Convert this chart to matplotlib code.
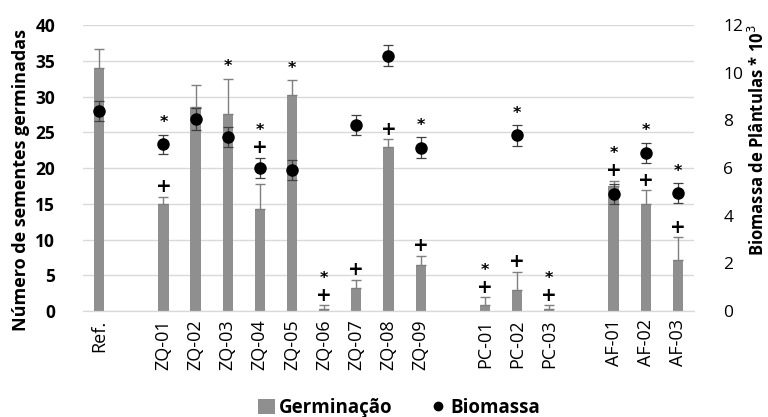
import matplotlib
matplotlib.use("Agg")
import matplotlib.pyplot as plt
import numpy as np
from matplotlib.lines import Line2D
from matplotlib.patches import Patch

plt.rcParams['font.family'] = ['Open Sans', 'DejaVu Sans']

categories = ['Ref.', '', 'ZQ-01', 'ZQ-02', 'ZQ-03', 'ZQ-04', 'ZQ-05', 'ZQ-06', 'ZQ-07',
              'ZQ-08', 'ZQ-09', '', 'PC-01', 'PC-02', 'PC-03', '', 'AF-01', 'AF-02', 'AF-03']
germinacao = [34.0, np.nan, 15.0, 28.5, 27.5, 14.2, 30.2, 0.3, 3.2,
              22.9, 6.5, np.nan, 0.8, 2.9, 0.3, np.nan, 17.5, 14.9, 7.2]
germ_err = [2.6, np.nan, 1.0, 3.1, 5.0, 3.5, 2.1, 0.5, 1.2,
            1.1, 1.2, np.nan, 1.1, 2.6, 0.5, np.nan, 0.7, 2.0, 3.1]
biomassa = [8.4, np.nan, 7.0, 8.06, 7.31, 6.01, 5.92, np.nan, 7.8,
            10.71, 6.85, np.nan, np.nan, 7.37, np.nan, np.nan, 4.9, 6.63, 4.95]
bio_err = [0.43, np.nan, 0.4, 0.47, 0.42, 0.42, 0.42, np.nan, 0.42,
           0.44, 0.43, np.nan, np.nan, 0.43, np.nan, np.nan, 0.42, 0.43, 0.42]
# significance marks stacked (bottom-to-top) above the bar error / biomass error
marks_bar = ['', '', '+', '', '*', '', '*', '+*', '+',
             '+', '+', '', '+*', '+', '+*', '', '+*', '+', '+']
marks_bio = ['', '', '*', '', '', '+*', '', '', '',
             '', '*', '', '', '*', '', '', '', '*', '*']

fig = plt.figure(figsize=(7.68, 4.17), dpi=100)
ax = fig.add_axes([83/768, 1-311/417, (694-83)/768, (311-25)/417])
ax2 = ax.twinx()

x = np.arange(len(categories))
bar_color = '#8f8f8f'
ax.bar(x, germinacao, width=0.32, color=bar_color, zorder=2)
ax.errorbar(x, germinacao, yerr=[np.zeros(len(x)), germ_err], fmt='none',
            ecolor='#7f7f7f', elinewidth=1.0, capsize=3.5, capthick=1.0, zorder=3)
ax2.errorbar(x, biomassa, yerr=bio_err, fmt='o', color='black', ms=8,
             ecolor='#404040', elinewidth=0.9, capsize=3.5, capthick=0.9, zorder=4)

ax.set_ylim(0, 40)
ax2.set_ylim(0, 12)
ax.set_xlim(-0.5, len(categories) - 0.5)
ax.set_yticks(np.arange(0, 41, 5))
ax2.set_yticks(np.arange(0, 13, 2))
ax.yaxis.grid(True, color='#d9d9d9', linewidth=1.0, zorder=0)
ax.set_axisbelow(True)
for a in (ax, ax2):
    for s in ['top', 'left', 'right']:
        a.spines[s].set_visible(False)
    a.spines['bottom'].set_color('#d9d9d9')
    a.tick_params(length=0)
ax.set_xticks(x)
ax.set_xticklabels(categories, rotation=90, fontsize=13)
ax.tick_params(axis='x', pad=6)
ax.tick_params(axis='y', labelsize=12.5, pad=20)
for t in ax.get_yticklabels():
    t.set_fontweight('bold')
ax2.tick_params(axis='y', labelsize=12.5, pad=21)

ax.set_ylabel('Número de sementes germinadas', fontsize=13, fontweight='bold')
ax.yaxis.set_label_coords(-(83-30)/611, (311-180)/286)
ax2.set_ylabel('Biomassa de Plântulas * 10$^{3}$', fontsize=12, fontweight='bold')
ax2.yaxis.set_label_coords((748-83)/611, (311-140)/286)

def stack(axis, xi, ytop, marks):
    off = 10
    for ch in marks:
        axis.annotate(ch, (xi, ytop), xytext=(0, off + (2 if ch == '*' else 0)),
                      textcoords='offset pixels', ha='center', va='center',
                      fontsize=13.5 if ch == '+' else 11.5, fontweight='bold',
                      family=['DejaVu Sans'], zorder=5)
        off += 15

for i in range(len(categories)):
    if marks_bar[i]:
        stack(ax, x[i], germinacao[i] + germ_err[i], marks_bar[i])
    if marks_bio[i]:
        stack(ax2, x[i], biomassa[i] + bio_err[i], marks_bio[i])

handles = [Patch(facecolor=bar_color, label='Germinação'),
           Line2D([], [], marker='o', color='black', ls='none', ms=6, label='Biomassa')]
leg = fig.legend(handles=handles, loc='center', bbox_to_anchor=(399/768, 1-408/417),
                 ncol=2, frameon=False, handlelength=0.9, handleheight=0.9, handletextpad=0.2,
                 columnspacing=2.0, prop={'weight': 'bold', 'size': 13.5})

fig.savefig('out.png', dpi=100)
